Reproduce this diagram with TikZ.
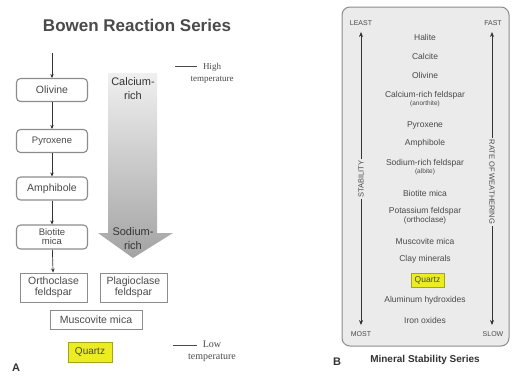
\documentclass[tikz,border=0pt]{standalone}
\usepackage{fontspec}
\setmainfont{Liberation Sans}
\newfontfamily\serifT{Liberation Serif}
\usetikzlibrary{arrows.meta}
\definecolor{txt}{HTML}{4A4A4A}
\definecolor{dark}{HTML}{333333}
\definecolor{bord}{HTML}{8C8C8C}
\definecolor{panel}{HTML}{EBEBEB}
\definecolor{qyel}{HTML}{ECEC22}
\begin{document}
\begin{tikzpicture}[x=1pt,y=-1pt,
  abox/.style={draw=bord, line width=1.1pt, rounded corners=4pt, fill=white, minimum width=71pt, minimum height=23pt, inner sep=1pt, align=center, font=\fontsize{10.5}{10.5}\selectfont, text=txt},
  sbox/.style={draw=bord, line width=1pt, fill=white, minimum width=67pt, minimum height=29pt, inner sep=1pt, align=center, font=\fontsize{10.5}{11.5}\selectfont, text=txt},
  qbox/.style={draw=qyel!70!black, line width=0.6pt, fill=qyel, inner sep=1pt, align=center, text=txt},
  item/.style={font=\fontsize{8.5}{9}\selectfont, text=txt, align=center, inner sep=1pt},
  corner/.style={font=\fontsize{7}{7}\selectfont, text=txt, inner sep=1pt},
  vlab/.style={font=\fontsize{7.5}{7.5}\selectfont, text=txt, fill=panel, inner sep=2pt},
  temp/.style={font=\serifT\fontsize{9}{12}\selectfont, text=txt, align=center, inner sep=0pt},
  conn/.style={-{Stealth[length=4pt,width=3.5pt]}, draw=dark, line width=0.7pt},
  barrow/.style={{Stealth[length=5pt,width=4pt]}-{Stealth[length=5pt,width=4pt]}, draw=dark, line width=0.8pt},
  bigtxt/.style={font=\fontsize{11}{14}\selectfont, text=dark, align=center, inner sep=0pt},
  lab/.style={font=\bfseries\fontsize{11}{11}\selectfont, text=dark, inner sep=0pt}
]
\useasboundingbox (0,0) rectangle (512,376);
\fill[white] (0,0) rectangle (512,376);

% ---------------- Panel A ----------------
\node[font=\bfseries\fontsize{17}{17}\selectfont, text=txt] (titleA) at (137,25) {Bowen Reaction Series};

\node[abox] (oli) at (52,90) {Olivine};
\node[abox, font=\fontsize{9.5}{9.5}\selectfont] (pyr) at (52,141) {Pyroxene};
\node[abox] (amp) at (52,188.5) {Amphibole};
\node[abox, minimum height=24pt, font=\fontsize{9.5}{9}\selectfont] (bio) at (52,237) {Biotite\\mica};
\node[sbox] (ort) at (53.5,287.5) {Orthoclase\\feldspar};
\node[sbox] (pla) at (133.5,287.5) {Plagioclase\\feldspar};
\node[sbox, minimum width=92pt, minimum height=19pt] (mus) at (96,319.5) {Muscovite mica};
\node[qbox, minimum width=44pt, minimum height=20pt, font=\fontsize{10}{10}\selectfont] (qa) at (90,352) {Quartz};

\coordinate (topA) at (52,53);
\draw[conn] (topA) -- (oli);
\draw[conn] (oli) -- (pyr);
\draw[conn] (pyr) -- (amp);
\draw[conn] (amp) -- (bio);
\draw[conn] (bio) -- (ort);

\shade[top color=gray!12, bottom color=gray!72]
  (108,73) -- (157,73) -- (157,233) -- (173,233) -- (133,258) -- (98,233) -- (108,233) -- cycle;
\node[bigtxt] (ca) at (133,89) {Calcium-\\rich};
\node[bigtxt] (na) at (133,239) {Sodium-\\rich};

\coordinate (h1) at (175,66); \coordinate (h2) at (197,66);
\draw[txt, line width=0.5pt] (h1) -- (h2);
\node[temp] (hi) at (212,73) {High\\temperature};
\coordinate (l1) at (173,345); \coordinate (l2) at (197,345);
\draw[txt, line width=0.5pt] (l1) -- (l2);
\node[temp, font=\serifT\fontsize{10}{12}\selectfont] (lo) at (212,351) {Low\\temperature};

\node[lab] (A) at (16,368) {A};

% ---------------- Panel B ----------------
\draw[draw=bord, fill=panel, rounded corners=8pt, line width=1pt] (342,7) rectangle (509,346);

\node[corner] (least) at (361,23) {LEAST};
\node[corner] (fast) at (493,23) {FAST};
\node[corner] (most) at (361,334) {MOST};
\node[corner] (slow) at (493,334) {SLOW};
\coordinate (lt) at (361,32); \coordinate (lb) at (361,325);
\coordinate (rt) at (492,32); \coordinate (rb) at (492,325);
\draw[barrow] (lt) -- (lb);
\draw[barrow] (rt) -- (rb);
\node[vlab, rotate=90] (stab) at (361,179) {STABILITY};
\node[vlab, rotate=-90] (rate) at (492,182) {RATE OF WEATHERING};

\node[item] (i1) at (425,37) {Halite};
\node[item] (i2) at (425,56) {Calcite};
\node[item] (i3) at (425,75) {Olivine};
\node[item] (i4) at (425,99) {Calcium-rich feldspar\\[-1pt]{\fontsize{6.5}{7}\selectfont (anorthite)}};
\node[item] (i5) at (425,125) {Pyroxene};
\node[item] (i6) at (425,143) {Amphibole};
\node[item] (i7) at (425,167) {Sodium-rich feldspar\\[-1pt]{\fontsize{6.5}{7}\selectfont (albite)}};
\node[item] (i8) at (425,193) {Biotite mica};
\node[item] (i9) at (425,215.5) {Potassium feldspar\\{\fontsize{8}{8}\selectfont (orthoclase)}};
\node[item] (i10) at (425,241) {Muscovite mica};
\node[item] (i11) at (425,259) {Clay minerals};
\node[qbox, minimum width=33pt, minimum height=14pt, font=\fontsize{8.5}{9}\selectfont] (qb) at (427.5,280) {Quartz};
\node[item] (i13) at (425,300) {Aluminum hydroxides};
\node[item] (i14) at (425,320) {Iron oxides};

\node[font=\bfseries\fontsize{10}{10}\selectfont, text=dark] (titleB) at (425,360) {Mineral Stability Series};
\node[lab] (B) at (337,362) {B};
\end{tikzpicture}
\end{document}
